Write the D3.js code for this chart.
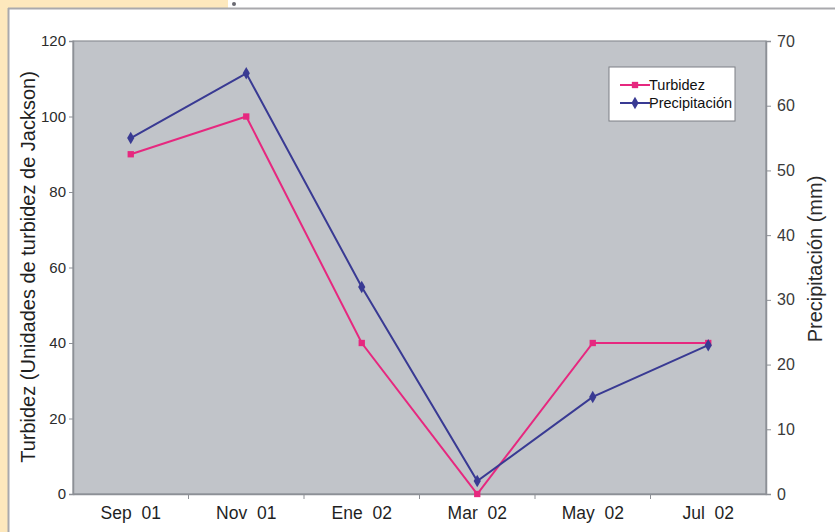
<!DOCTYPE html>
<html>
<head>
<meta charset="utf-8">
<script src="https://cdn.jsdelivr.net/npm/d3@7"></script>
<style>
  html, body { margin: 0; padding: 0; background: #ffffff; }
  svg { display: block; }
  text { font-family: "Liberation Sans", Arial, sans-serif; }
</style>
</head>
<body>
<svg id="chart" width="835" height="532"></svg>
<script>
// Monthly samples, Sep 2001 – Jul 2002
const months = ["Sep  01", "Nov  01", "Ene  02", "Mar  02", "May  02", "Jul  02"];
const turbidez = [90, 100, 40, 0, 40, 40];          // Jackson turbidity units
const precipitacion = [55, 65, 32, 2, 15, 23];      // mm
const leftTicks = [0, 20, 40, 60, 80, 100, 120];
const rightTicks = [0, 10, 20, 30, 40, 50, 60, 70];

const svg = d3.select("#chart");
const W = 835, H = 532;
const plot = { left: 73, top: 41, right: 766, bottom: 494 };

// Page frame: peach margin with a white panel
svg.append("rect").attr("x", 0).attr("y", 0).attr("width", W).attr("height", H).attr("fill", "#ffffff");
svg.append("rect").attr("x", 0).attr("y", 0).attr("width", 228).attr("height", 8).attr("fill", "#fde8bd");
svg.append("rect").attr("x", 0).attr("y", 0).attr("width", 8).attr("height", H).attr("fill", "#fde8bd");
svg.append("circle").attr("cx", 234).attr("cy", 4).attr("r", 2).attr("fill", "#6a6a72");
svg.append("line").attr("x1", 8).attr("x2", W).attr("y1", 8.5).attr("y2", 8.5)
  .attr("stroke", "#a9a9ad").attr("stroke-width", 2);
svg.append("line").attr("x1", 8.5).attr("x2", 8.5).attr("y1", 8).attr("y2", H)
  .attr("stroke", "#a9a9ad").attr("stroke-width", 2);

const x = d3.scaleBand().domain(months).range([plot.left, plot.right]).padding(0);
const yL = d3.scaleLinear().domain([0, 120]).range([plot.bottom, plot.top]);
const yR = d3.scaleLinear().domain([0, 70]).range([plot.bottom, plot.top]);
const cx = m => x(m) + x.bandwidth() / 2;

// Plot area
svg.append("rect")
  .attr("x", plot.left).attr("y", plot.top)
  .attr("width", plot.right - plot.left).attr("height", plot.bottom - plot.top)
  .attr("fill", "#c1c4c9").attr("stroke", "#8d9096").attr("stroke-width", 1.2);

// Left axis
const gL = svg.append("g").attr("transform", `translate(${plot.left},0)`)
  .call(d3.axisLeft(yL).tickValues(leftTicks).tickSize(4).tickPadding(3));
gL.select(".domain").attr("stroke", "#8d9096").attr("stroke-width", 1.5);
gL.selectAll(".tick line").attr("stroke", "#8d9096");
gL.selectAll(".tick text").attr("font-size", 15).attr("fill", "#2b2b2b")
  .attr("font-family", "Liberation Sans, Arial, sans-serif");

// Right axis
const gR = svg.append("g").attr("transform", `translate(${plot.right},0)`)
  .call(d3.axisRight(yR).tickValues(rightTicks).tickSize(5).tickPadding(6));
gR.select(".domain").attr("stroke", "#8d9096").attr("stroke-width", 1.5);
gR.selectAll(".tick line").attr("stroke", "#8d9096");
gR.selectAll(".tick text").attr("font-size", 16).attr("fill", "#3a3a3a")
  .attr("font-family", "Open Sans, sans-serif");

// Bottom axis: ticks at category boundaries, labels centered
const gB = svg.append("g").attr("transform", `translate(0,${plot.bottom})`)
  .call(d3.axisBottom(x).tickSize(0).tickPadding(13));
gB.select(".domain").attr("stroke", "#8d9096").attr("stroke-width", 1.5);
gB.selectAll(".tick text").attr("font-size", 17.5).attr("fill", "#1f1f1f")
  .style("white-space", "pre").attr("font-family", "Liberation Sans, Arial, sans-serif");
svg.append("g").selectAll("line")
  .data(months.slice(1))
  .join("line")
  .attr("x1", d => x(d)).attr("x2", d => x(d))
  .attr("y1", plot.bottom).attr("y2", plot.bottom + 5)
  .attr("stroke", "#8d9096");

// Axis titles
svg.append("text")
  .attr("transform", `translate(35,267) rotate(-90)`)
  .attr("text-anchor", "middle").attr("font-size", 20).attr("fill", "#1f1f1f")
  .text("Turbidez (Unidades de turbidez de Jackson)");
svg.append("text")
  .attr("transform", `translate(822,259) rotate(-90)`)
  .attr("text-anchor", "middle").attr("font-size", 20).attr("fill", "#2b2b2b")
  .attr("font-family", "Open Sans, sans-serif")
  .text("Precipitación (mm)");

const pink = "#e6287f", blue = "#393a93";

// Series lines
svg.append("path")
  .datum(turbidez)
  .attr("fill", "none").attr("stroke", pink).attr("stroke-width", 2)
  .attr("d", d3.line().x((d, i) => cx(months[i])).y(d => yL(d)));
svg.append("path")
  .datum(precipitacion)
  .attr("fill", "none").attr("stroke", blue).attr("stroke-width", 2)
  .attr("d", d3.line().x((d, i) => cx(months[i])).y(d => yR(d)));

// Markers
const sq = d3.symbol().type(d3.symbolSquare).size(40);
const dia = d3.symbol().type(d3.symbolDiamond).size(45);
svg.append("g").selectAll("path")
  .data(turbidez).join("path")
  .attr("d", sq)
  .attr("transform", (d, i) => `translate(${cx(months[i])},${yL(d)})`)
  .attr("fill", pink);
svg.append("g").selectAll("path")
  .data(precipitacion).join("path")
  .attr("d", dia)
  .attr("transform", (d, i) => `translate(${cx(months[i])},${yR(d)})`)
  .attr("fill", blue);

// Legend
const lg = svg.append("g").attr("transform", "translate(609,67)");
lg.append("rect").attr("width", 126).attr("height", 54)
  .attr("fill", "#ffffff").attr("stroke", "#7d7f85").attr("stroke-width", 1);
const items = [
  { name: "Turbidez", color: pink, sym: sq },
  { name: "Precipitación", color: blue, sym: dia }
];
items.forEach((it, i) => {
  const yy = 18 + i * 18;
  lg.append("line").attr("x1", 11).attr("x2", 41).attr("y1", yy).attr("y2", yy)
    .attr("stroke", it.color).attr("stroke-width", 2);
  lg.append("path").attr("d", it.sym).attr("transform", `translate(26,${yy})`).attr("fill", it.color);
  lg.append("text").attr("x", 40).attr("y", yy + 5).attr("font-size", 14.5).attr("fill", "#111")
    .text(it.name);
});
</script>
</body>
</html>
